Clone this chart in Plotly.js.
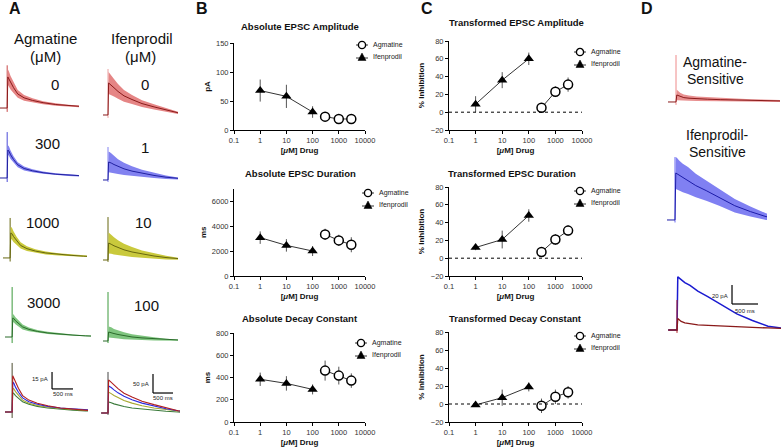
<!DOCTYPE html>
<html><head><meta charset="utf-8">
<script src="https://cdn.plot.ly/plotly-3.0.1.min.js"></script>
<style>html,body{margin:0;padding:0;background:#fff}#chart{width:781px;height:448px}</style>
</head><body><div id="chart"></div>
<script>
// ---------------- Dose-response data (panels B and C) ----------------
const agmDose = [300, 1000, 3000];
const ifenDose = [1, 10, 100];
const xTickVals = [0.1, 1, 10, 100, 1000, 10000];
const xTickText = ['0.1', '1', '10', '100', '1000', '10000'];

const ampAgm = [23, 19, 19],        ampAgmErr = [4, 3, 3];
const ampIfen = [68, 58, 31],       ampIfenErr = [19, 20, 10];
const durAgm = [3330, 2850, 2500],  durAgmErr = [450, 450, 600];
const durIfen = [3070, 2450, 2000], durIfenErr = [500, 500, 400];
const tauAgm = [462, 417, 372],     tauAgmErr = [90, 80, 65];
const tauIfen = [384, 347, 293],    tauIfenErr = [60, 65, 45];
const tAmpAgm = [5, 23, 31],        tAmpAgmErr = [4, 6, 8];
const tAmpIfen = [9, 36, 60],       tAmpIfenErr = [9, 9, 7];
const tDurAgm = [7, 21, 31],        tDurAgmErr = [3, 6, 6];
const tDurIfen = [12, 21, 48],      tDurIfenErr = [3, 10, 7];
const tTauAgm = [-2, 8, 13],        tTauAgmErr = [8, 8, 7];
const tTauIfen = [-1, 7, 19],       tTauIfenErr = [2, 9, 5];

// ---------------- EPSC traces (panels A and D): time in ms, current in pA ----------------
const traceTime = [-170, 0, 15, 40, 80, 150, 250, 400, 600, 850, 1150, 1450, 1750, 2000];
const agmLabels = ['0', '300', '1000', '3000'];
const ifenLabels = ['0', '1', '10', '100'];

const agm0    = [0, 0, 32, 30, 26, 21, 14.5, 10.5, 7.8, 5.5, 3.6, 2.3, 1.3, 0.8];
const agm300  = [0, 0, 26.5, 25.5, 22, 17.5, 12.5, 9, 6.8, 5, 3.6, 2.7, 2, 1.5];
const agm1000 = [0, 0, 21, 20.5, 18, 14.5, 10.5, 7.8, 5.8, 4.2, 3, 2.2, 1.5, 1.1];
const agm3000 = [0, 0, 17, 16.5, 14.5, 12, 9, 6.8, 5, 3.6, 2.5, 1.7, 1, 0.7];
const agm0Sem    = [0, 0, 8, 8, 7, 5.5, 4, 3, 2.2, 1.6, 1.2, 1, 0.8, 0.7];
const agm300Sem  = [0, 0, 4.5, 4.5, 4, 3.2, 2.4, 1.8, 1.4, 1.1, 0.9, 0.8, 0.7, 0.6];
const agm1000Sem = [0, 0, 5, 5, 4.5, 3.5, 2.6, 2, 1.5, 1.2, 0.9, 0.7, 0.6, 0.5];
const agm3000Sem = [0, 0, 3.5, 3.5, 3.2, 2.7, 2.2, 1.7, 1.3, 1, 0.8, 0.6, 0.5, 0.4];

const ifen0   = [0, 0, 87, 85, 81, 74, 64, 52, 42, 31, 22, 13, 6, 3];
const ifen1   = [0, 0, 71, 70, 67, 61, 53, 44, 35, 26, 18, 11, 6, 3];
const ifen10  = [0, 0, 55, 54, 51, 46, 40, 33, 26, 19, 13, 8, 4, 2];
const ifen100 = [0, 0, 29, 28.5, 27, 24, 21, 17, 13, 10, 7, 4.5, 2.5, 1.5];
const ifen0Sem   = [0, 0, 30, 29, 27, 24, 20, 16, 12, 9, 7, 5, 3, 2];
const ifen1Sem   = [0, 0, 40, 40, 38, 34, 29, 24, 19, 14, 10, 7, 4, 3];
const ifen10Sem  = [0, 0, 34, 33, 31, 28, 24, 20, 16, 12, 9, 6, 3, 2];
const ifen100Sem = [0, 0, 18, 18, 17, 15, 13, 11, 9, 7, 5, 3, 2, 1.5];

const agmSensitive     = [0, 0, 12, 11, 9, 7.5, 6.5, 5.5, 4.8, 4, 3.3, 2.7, 2.2, 1.8];
const agmSensitiveSem  = [0, 0, 9, 8, 7, 5.5, 4.5, 4, 3.5, 3, 2.5, 2.2, 2, 1.8];
const ifenSensitive    = [0, 0, 56, 55, 53, 50, 47, 41, 35, 27, 17, 10, 4, 2];
const ifenSensitiveSem = [0, 0, 19, 19, 18, 17, 16, 14, 12, 10, 8, 6, 4, 3];

// stimulus artifact extent [bottom, top] in pA
const agmArtifact  = [[-4, 44], [-4, 43.5], [-3, 33.6], [-5.4, 44.7], [-5.3, 43.4]];
const ifenArtifact = [[-8, 125], [-8, 130], [-6, 139], [-6.5, 158], [-5, 108]];
const dArtifact    = [[-5, 80.6], [-3, 75], [-3, 31.6]];

// ---------------- layout helpers ----------------
const W = 781, H = 448;
const FONT = 'Liberation Sans, Arial, Helvetica, sans-serif';
const xd = (a, b) => [a / W, b / W];
const yd = (top, bot) => [1 - bot / H, 1 - top / H];
const layout = {
  width: W, height: H, margin: {l: 0, r: 0, t: 0, b: 0},
  paper_bgcolor: '#fff', plot_bgcolor: 'rgba(0,0,0,0)', showlegend: false,
  font: {family: FONT, color: '#222'}, annotations: [], shapes: []
};
const data = [];
let axN = 0;
function addAxes(xcfg, ycfg) {
  axN++;
  const s = axN === 1 ? '' : String(axN);
  layout['xaxis' + s] = Object.assign({anchor: 'y' + s, fixedrange: true}, xcfg);
  layout['yaxis' + s] = Object.assign({anchor: 'x' + s, fixedrange: true}, ycfg);
  return {x: 'x' + s, y: 'y' + s};
}
function note(text, px, py, size, opts) {
  layout.annotations.push(Object.assign({
    text: text, xref: 'paper', yref: 'paper', x: px / W, y: 1 - py / H,
    xanchor: 'center', yanchor: 'middle', showarrow: false,
    font: {size: size, color: '#111', family: FONT}
  }, opts || {}));
}
function legendAt(cx, cy) {
  const r = 3.6;
  layout.shapes.push({type: 'line', xref: 'paper', yref: 'paper', x0: (cx - 6) / W, x1: (cx + 6) / W,
    y0: 1 - cy / H, y1: 1 - cy / H, line: {color: '#000', width: 0.8}});
  layout.shapes.push({type: 'circle', xref: 'paper', yref: 'paper', x0: (cx - r) / W, x1: (cx + r) / W,
    y0: 1 - (cy + r) / H, y1: 1 - (cy - r) / H, line: {color: '#000', width: 1.4}, fillcolor: '#fff'});
  const ty = cy + 12;
  layout.shapes.push({type: 'line', xref: 'paper', yref: 'paper', x0: (cx - 6) / W, x1: (cx + 6) / W,
    y0: 1 - (ty + 1) / H, y1: 1 - (ty + 1) / H, line: {color: '#000', width: 0.8}});
  const p = (x, y) => (x / W) + ',' + (1 - y / H);
  layout.shapes.push({type: 'path', xref: 'paper', yref: 'paper',
    path: 'M' + p(cx - 4, ty + 3.5) + 'L' + p(cx + 4, ty + 3.5) + 'L' + p(cx, ty - 4) + 'Z',
    fillcolor: '#000', line: {color: '#000', width: 0.5}});
  note('Agmatine', cx + 9, cy, 7, {xanchor: 'left', font: {size: 7, color: '#222', family: FONT}});
  note('Ifenprodil', cx + 9, ty, 7, {xanchor: 'left', font: {size: 7, color: '#222', family: FONT}});
}

// ---------------- dose-response panels ----------------
function dosePanel(px, py, yRange, yDtick, yTitle, title, titleXY, agm, agmErr, ifen, ifenErr, legXY, zeroLine) {
  const ax = addAxes({
    type: 'log', domain: xd(px[0], px[1]), range: [-1, 4],
    tickvals: xTickVals, ticktext: xTickText, ticks: 'outside', ticklen: 3, tickwidth: 1, tickcolor: '#000',
    showline: true, linecolor: '#000', linewidth: 1, showgrid: false, zeroline: false,
    tickfont: {size: 7.5, color: '#333', family: FONT},
    title: {text: '<b>[<i>μ</i>M] Drug</b>', font: {size: 8, color: '#111', family: FONT}, standoff: 3}
  }, {
    domain: yd(py[0], py[1]), range: yRange, tick0: yRange[0], dtick: yDtick,
    ticks: 'outside', ticklen: 3, tickwidth: 1, tickcolor: '#000',
    showline: true, linecolor: '#000', linewidth: 1, showgrid: false, zeroline: false,
    tickfont: {size: 7.5, color: '#333', family: FONT},
    title: {text: '<b>' + yTitle + '</b>', font: {size: 8, color: '#111', family: FONT}, standoff: 4}
  });
  if (zeroLine) {
    layout.shapes.push({type: 'line', xref: ax.x + ' domain', x0: 0, x1: 1, yref: ax.y, y0: 0, y1: 0,
      line: {color: '#000', width: 1, dash: 'dot'}});
  }
  data.push({
    name: 'Ifenprodil', x: ifenDose, y: ifen, xaxis: ax.x, yaxis: ax.y, mode: 'lines+markers',
    line: {color: '#000', width: 0.8}, marker: {symbol: 'triangle-up', size: 9, color: '#000'},
    error_y: {type: 'data', array: ifenErr, visible: true, color: '#555', thickness: 1, width: 0},
    cliponaxis: false
  });
  data.push({
    name: 'Agmatine', x: agmDose, y: agm, xaxis: ax.x, yaxis: ax.y, mode: 'lines+markers',
    line: {color: '#000', width: 0.8},
    marker: {symbol: 'circle', size: 9, color: '#fff', line: {color: '#000', width: 1.5}},
    error_y: {type: 'data', array: agmErr, visible: true, color: '#555', thickness: 1, width: 0},
    cliponaxis: false
  });
  note('<b>' + title + '</b>', titleXY[0], titleXY[1], 9.5);
  legendAt(legXY[0], legXY[1]);
}

dosePanel([234, 365], [43, 130], [0, 150], 50, 'pA', 'Absolute EPSC Amplitude', [300, 27],
  ampAgm, ampAgmErr, ampIfen, ampIfenErr, [362, 45], false);
dosePanel([234, 365], [188.5, 276], [0, 7000], 2000, 'ms', 'Absolute EPSC Duration', [300, 173],
  durAgm, durAgmErr, durIfen, durIfenErr, [368, 193], false);
dosePanel([234, 365], [333, 422], [0, 800], 200, 'ms', 'Absolute Decay Constant', [300, 318],
  tauAgm, tauAgmErr, tauIfen, tauIfenErr, [361, 343], false);
dosePanel([449, 582], [41, 130], [-20, 80], 20, '% Inhibition', 'Transformed EPSC Amplitude', [516, 22],
  tAmpAgm, tAmpAgmErr, tAmpIfen, tAmpIfenErr, [580, 52], true);
dosePanel([449, 582], [187, 276], [-20, 80], 20, '% Inhibition', 'Transformed EPSC Duration', [512, 173],
  tDurAgm, tDurAgmErr, tDurIfen, tDurIfenErr, [580, 191], true);
dosePanel([449, 582], [332, 422], [-20, 80], 20, '% Inhibition', 'Transformed Decay Constant', [515, 318],
  tTauAgm, tTauAgmErr, tTauIfen, tTauIfenErr, [580, 336], true);

// ---------------- trace panels ----------------
function tracePanel(px, py, xRange, yRange) {
  return addAxes({domain: xd(px[0], px[1]), range: xRange, visible: false},
                 {domain: yd(py[0], py[1]), range: yRange, visible: false});
}
function meanLine(ax, mean, color, width) {
  data.push({x: traceTime, y: mean, xaxis: ax.x, yaxis: ax.y, mode: 'lines',
    line: {color: color, width: width}, hoverinfo: 'skip'});
}
function band(ax, mean, sem, fill, lineColor) {
  data.push({x: traceTime, y: mean.map((m, i) => m + sem[i]), xaxis: ax.x, yaxis: ax.y, mode: 'lines',
    line: {width: 0, color: fill}, hoverinfo: 'skip'});
  data.push({x: traceTime, y: mean.map((m, i) => m - sem[i]), xaxis: ax.x, yaxis: ax.y, mode: 'lines',
    line: {width: 0, color: fill}, fill: 'tonexty', fillcolor: fill, hoverinfo: 'skip'});
  meanLine(ax, mean, lineColor, 1);
}
function artifact(ax, ext, color, width) {
  data.push({x: [0, 0], y: ext, xaxis: ax.x, yaxis: ax.y, mode: 'lines',
    line: {color: color, width: width}, hoverinfo: 'skip'});
}
function scaleBar(ax, t0, y0, dt, dy, yLabel, tLabel, ly, ty) {
  layout.shapes.push({type: 'line', xref: ax.x, yref: ax.y, x0: t0, x1: t0, y0: y0, y1: y0 + dy, line: {color: '#000', width: 1.2}});
  layout.shapes.push({type: 'line', xref: ax.x, yref: ax.y, x0: t0, x1: t0 + dt, y0: y0, y1: y0, line: {color: '#000', width: 1.2}});
  layout.annotations.push({text: yLabel, xref: ax.x, yref: ax.y, x: t0, y: ly, xanchor: 'right', xshift: -2,
    yanchor: 'middle', showarrow: false, font: {size: 6, color: '#222', family: FONT}});
  layout.annotations.push({text: tLabel, xref: ax.x, yref: ax.y, x: t0 + dt / 2, y: ty, xanchor: 'center',
    yanchor: 'middle', showarrow: false, font: {size: 6, color: '#222', family: FONT}});
}

const RED = ['#e58585', '#8a1a1a'], BLUE = ['#8282f0', '#2020a0'],
      YEL = ['#c9c93c', '#66660f'], GRN = ['#7fc57f', '#2b6b2b'];

// A – Agmatine column
const agmMeans = [agm0, agm300, agm1000, agm3000];
const agmSems = [agm0Sem, agm300Sem, agm1000Sem, agm3000Sem];
const aPanels = [
  [[0, 79], [62, 112], [-170, 1700], [-4.1, 47.4]],
  [[0, 79], [129, 182], [-170, 1700], [-3.8, 46.4]],
  [[3, 87], [215, 262], [-170, 1830], [-3.4, 36.1]],
  [[5, 91], [284, 346], [-170, 1880], [-8.05, 47.4]]
];
const colors = [RED, BLUE, YEL, GRN];
const agmArtColor = ['#c84848', '#4a4ad8', '#66660f', '#3c9a3c'];
for (let i = 0; i < 4; i++) {
  const p = aPanels[i];
  const ax = tracePanel(p[0], p[1], p[2], p[3]);
  artifact(ax, agmArtifact[i], agmArtColor[i], 1);
  band(ax, agmMeans[i], agmSems[i], colors[i][0], colors[i][1]);
}
const aOv = tracePanel([5, 88], [360, 421], [-170, 1810], [-7.96, 46.0]);
artifact(aOv, agmArtifact[4], '#4d4d30', 1);
const ovCols = ['#b01e1e', '#2a2ae0', '#a8a830', '#3a7a3a'];
for (let i = 3; i >= 0; i--) meanLine(aOv, agmMeans[i], ovCols[i], 1.1);
scaleBar(aOv, 952, 20.4, 500, 15, '15 pA', '500 ms', 29.2, 15.5);

// A – Ifenprodil column
const ifenMeans = [ifen0, ifen1, ifen10, ifen100];
const ifenSems = [ifen0Sem, ifen1Sem, ifen10Sem, ifen100Sem];
const iPanels = [
  [[103, 178], [62, 119], [-125, 1750], [-10.9, 144]],
  [[103, 178], [128, 184], [-125, 1750], [-15.8, 205]],
  [[103, 178], [214, 264], [-125, 1750], [-12.9, 148.9]],
  [[103, 178], [289, 346], [-125, 1750], [-16.1, 167.7]]
];
const ifenArtColor = ['#eaa0a0', '#8282f0', '#66660f', '#3c9a3c'];
for (let i = 0; i < 4; i++) {
  const p = iPanels[i];
  const ax = tracePanel(p[0], p[1], p[2], p[3]);
  artifact(ax, ifenArtifact[i], ifenArtColor[i], 1);
  band(ax, ifenMeans[i], ifenSems[i], colors[i][0], colors[i][1]);
}
const iOv = tracePanel([100, 180], [369, 418], [-200, 1800], [-13.2, 115.8]);
artifact(iOv, ifenArtifact[4], '#444444', 1);
for (let i = 3; i >= 0; i--) meanLine(iOv, ifenMeans[i], ovCols[i], 1.1);
scaleBar(iOv, 1125, 52.6, 500, 50, '50 pA', '500 ms', 76, 39.5);

// D – drug-sensitive components
const dRed = tracePanel([668, 780], [52, 106], [-154, 2000], [-6.9, 85.8]);
artifact(dRed, dArtifact[0], '#ee8a8a', 1);
band(dRed, agmSensitive, agmSensitiveSem, '#e89090', '#8a1a1a');
const dBlue = tracePanel([667, 767], [150, 224], [-154, 1770], [-4.8, 83.4]);
artifact(dBlue, dArtifact[1], '#6a6af0', 1);
band(dBlue, ifenSensitive, ifenSensitiveSem, '#8080f2', '#1c1ca8');
const dOv = tracePanel([668, 781], [272, 336], [-173, 2000], [-6.3, 61.1]);
meanLine(dOv, ifenSensitive, '#1a1ad0', 1.5);
artifact(dOv, dArtifact[2], '#b02020', 1);
meanLine(dOv, agmSensitive, '#8a1a1a', 1.3);
scaleBar(dOv, 1058, 27.4, 500, 20, '20 pA', '500 ms', 35.8, 20);

// ---------------- text labels ----------------
note('<b>A</b>', 15, 9, 16);
note('<b>B</b>', 202, 8, 16);
note('<b>C</b>', 427, 8, 16);
note('<b>D</b>', 647, 8, 16);
note('Agmatine', 45, 38, 15);
note('(μM)', 45, 56, 15);
note('Ifenprodil', 142, 38, 15);
note('(μM)', 140, 56, 15);
const agmLabelXY = [[55, 85], [47, 143], [42, 222], [43, 302]];
const ifenLabelXY = [[145, 85], [145, 147], [143, 222], [146, 305]];
for (let i = 0; i < 4; i++) {
  note(agmLabels[i], agmLabelXY[i][0], agmLabelXY[i][1], 15);
  note(ifenLabels[i], ifenLabelXY[i][0], ifenLabelXY[i][1], 15);
}
note('Agmatine-', 715, 62, 14);
note('Sensitive', 715, 79, 14);
note('Ifenprodil-', 717, 135, 14);
note('Sensitive', 717, 152, 14);

Plotly.newPlot('chart', data, layout, {staticPlot: true});
</script>
</body></html>
